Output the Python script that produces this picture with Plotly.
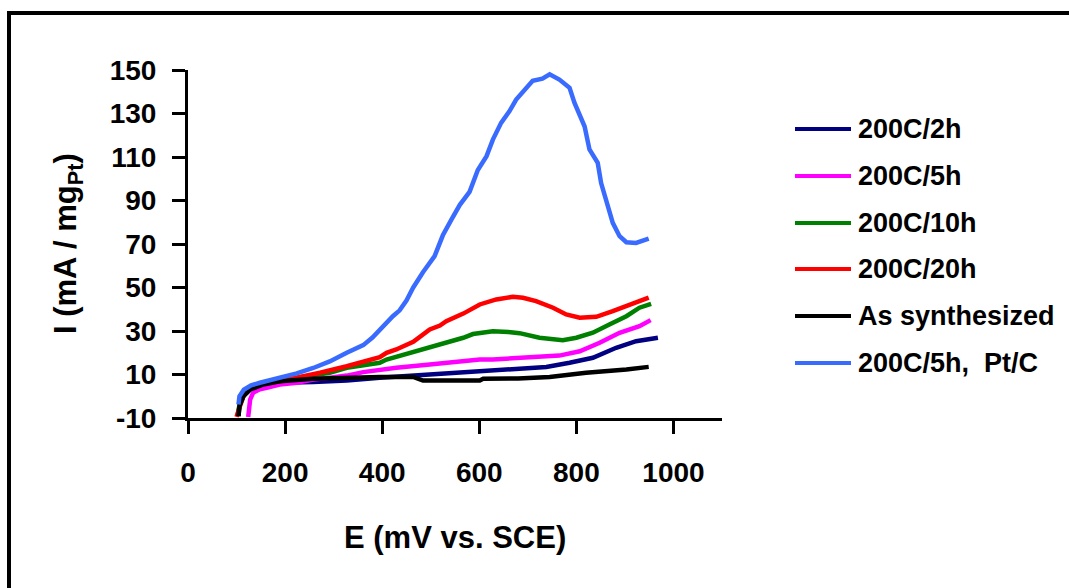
import plotly.graph_objects as go

# ---------------- data ----------------
series_names = ["200C/2h", "200C/5h", "200C/10h", "200C/20h", "As synthesized", "200C/5h,  Pt/C"]
series_colors = ["#000080", "#FF00FF", "#008000", "#FF0000", "#000000", "#3A6BFF"]

e_2h = [104, 106, 114, 128, 155, 189, 258, 327, 395, 464, 532, 560, 601, 663, 738, 786, 834, 882, 923, 968]
i_2h = [-9, -4, 0, 3, 5, 6.2, 6.5, 7.2, 8.5, 9.5, 10.5, 10.8, 11.5, 12.3, 13.5, 15.4, 17.7, 22.3, 25.3, 26.9]

e_5h = [124, 126, 128, 134, 148, 162, 189, 224, 258, 292, 327, 361, 429, 498, 567, 601, 628, 660, 697, 765, 807, 848, 889, 930, 953]
i_5h = [-9.5, -5, -1.5, 1.6, 3.2, 3.9, 5.4, 6.2, 7.7, 8.5, 9.5, 11.1, 13.1, 14.6, 16.1, 16.9, 16.9, 17.3, 17.7, 18.7, 20.7, 24.6, 29.2, 32.2, 35]

e_10h = [102, 106, 115, 130, 150, 189, 244, 292, 327, 368, 395, 409, 464, 519, 532, 567, 587, 601, 628, 660, 683, 724, 745, 772, 800, 834, 868, 903, 930, 954]
i_10h = [-9, -4, 1.5, 4, 5.8, 6.9, 9.2, 10.8, 13.1, 14.6, 15.4, 16.9, 20.3, 23.8, 25, 26.9, 28.6, 29.2, 29.9, 29.5, 29, 26.9, 26.2, 25.8, 26.9, 29.2, 33, 36.8, 40.7, 42.5]

e_20h = [100, 104, 107, 117, 130, 141, 189, 224, 272, 327, 368, 395, 409, 429, 464, 498, 519, 532, 567, 601, 635, 669, 690, 717, 752, 779, 807, 841, 875, 909, 949]
i_20h = [-9.5, -6, -4.6, 1.6, 4, 5.4, 6.9, 8.5, 10.8, 13.8, 16.1, 18, 20, 21.5, 25, 30.7, 32.5, 34.5, 38, 42.2, 44.5, 45.7, 45.3, 43.7, 40.7, 37.6, 36.1, 36.5, 39.1, 42.2, 45.3]

e_as = [104, 106, 114, 128, 155, 189, 258, 327, 395, 464, 484, 532, 560, 601, 608, 680, 745, 820, 903, 949]
i_as = [-9.2, -4.6, 0, 3.1, 5.4, 6.9, 8, 8.5, 8.9, 8.9, 7.2, 7.2, 7, 7.2, 8, 8.2, 8.9, 10.8, 12.3, 13.5]

e_ptc = [104, 106, 115, 130, 148, 170, 189, 224, 258, 292, 327, 361, 380, 395, 422, 436, 450, 464, 484, 508, 525, 542, 560, 580, 597, 615, 628, 645, 662, 676, 697, 710, 730, 745, 765, 786, 796, 807, 817, 827, 844, 851, 861, 875, 889, 903, 923, 949]
i_ptc = [-3.8, 0, 3, 5, 6.2, 7.3, 8.3, 10.5, 13, 16, 20, 23.5, 27, 30.7, 36.8, 39.5, 44, 50, 57, 64.4, 74, 81, 88, 94, 104, 110.4, 118, 125.7, 131, 136.4, 141.8, 145, 146, 148, 145.6, 141.8, 135, 128.8, 124, 113.5, 107.3, 98, 90.5, 79.7, 73.6, 70.8, 70.5, 72.5]

series_e = [e_2h, e_5h, e_10h, e_20h, e_as, e_ptc]
series_i = [i_2h, i_5h, i_10h, i_20h, i_as, i_ptc]

x_tickvals = [0, 200, 400, 600, 800, 1000]
x_ticktext = ["0", "200", "400", "600", "800", "1000"]
y_tickvals = [-10, 10, 30, 50, 70, 90, 110, 130, 150]
y_ticktext = ["-10", "10", "30", "50", "70", "90", "110", "130", "150"]

x_title = "E (mV vs. SCE)"
y_title = "I (mA / mg<sub>Pt</sub>)"

# ---------------- layout geometry ----------------
W, H = 1069, 588
ML, MR, MT, MB = 188, 347, 70, 170
PW, PH = W - ML - MR, H - MT - MB
FONT = "Arial, 'Liberation Sans', sans-serif"


def px(xp):
    return (xp - ML) / PW


def py(yp):
    return (H - MB - yp) / PH


fig = go.Figure()
for name, color, ex, iy in zip(series_names, series_colors, series_e, series_i):
    fig.add_trace(go.Scatter(x=ex, y=iy, mode="lines", name=name,
                             line=dict(color=color, width=4.5), showlegend=False))

fig.update_layout(
    width=W, height=H,
    margin=dict(l=ML, r=MR, t=MT, b=MB),
    paper_bgcolor="white", plot_bgcolor="white",
    font=dict(family=FONT, color="black"),
)
axis_common = dict(showgrid=False, zeroline=False, showline=True, linewidth=3,
                   linecolor="black", ticks="outside", ticklen=13, tickwidth=3,
                   tickcolor="black",
                   tickfont=dict(family=FONT, size=28, color="black", weight="bold"))
fig.update_xaxes(range=[0, 1100], tickvals=x_tickvals, ticktext=x_ticktext,
                 ticklabelstandoff=14, **axis_common)
fig.update_yaxes(range=[-10, 150], tickvals=y_tickvals, ticktext=y_ticktext,
                 ticklabelstandoff=10, **axis_common)

annotations = [
    dict(x=0.5, y=py(537), xref="paper", yref="paper", text=x_title, showarrow=False,
         xanchor="center", yanchor="middle",
         font=dict(family=FONT, size=31, color="black", weight="bold")),
    dict(x=px(68), y=py(244), xref="paper", yref="paper", text=y_title, showarrow=False,
         textangle=-90, xanchor="center", yanchor="middle",
         font=dict(family=FONT, size=31, color="black", weight="bold")),
]
shapes = [
    dict(type="rect", xref="paper", yref="paper", x0=px(9), x1=px(1090), y0=py(13), y1=py(620),
         line=dict(color="black", width=4), fillcolor="rgba(0,0,0,0)", layer="below"),
]

# manual legend
legend_rows = [129, 176, 223, 269, 316, 363]
for name, color, ry in zip(series_names, series_colors, legend_rows):
    shapes.append(dict(type="line", xref="paper", yref="paper", x0=px(795), x1=px(851),
                       y0=py(ry), y1=py(ry), line=dict(color=color, width=4)))
    annotations.append(dict(x=px(856), y=py(ry), xref="paper", yref="paper", text=name,
                            showarrow=False, xanchor="left", yanchor="middle",
                            font=dict(family=FONT, size=27, color="black", weight="bold")))

fig.update_layout(annotations=annotations, shapes=shapes)
fig.write_html("out.html")
